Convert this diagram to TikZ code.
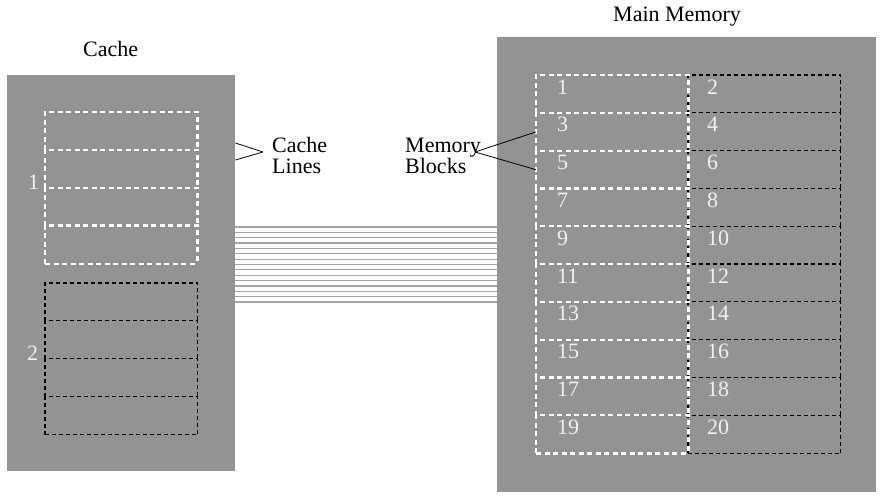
\documentclass[tikz,border=0pt]{standalone}
\usepackage{fontspec}
\setmainfont{Liberation Serif}
\usepackage{tikz}

\definecolor{boxgray}{RGB}{147,147,147}
\definecolor{busgray}{RGB}{165,165,165}
\definecolor{numwhite}{RGB}{240,240,240}

\tikzset{
  box/.style={fill=boxgray, inner sep=0pt, anchor=north west},
  cell/.style={minimum width=152pt, minimum height=37.8pt, inner sep=0pt, anchor=north west},
  wline/.style={draw=white, line width=2.2pt, dash pattern=on 5pt off 3.5pt},
  kline/.style={draw=black, line width=1.1pt, dash pattern=on 4pt off 3pt},
  num/.style={text=numwhite, font=\fontsize{22}{21}\selectfont, inner sep=0pt, anchor=base west},
  lbl/.style={font=\fontsize{22}{21}\selectfont, inner sep=0pt, anchor=base west, align=left},
  bus/.style={draw=busgray, line width=1.2pt},
  pointer/.style={draw=black, line width=0.8pt}
}

\begin{document}
\begin{tikzpicture}[x=1pt,y=-1pt]
    \useasboundingbox (0,0) rectangle (881,503);

    % Cache
    \node[box, minimum width=228pt, minimum height=396pt] (cache) at (7,75) {};
    \node[lbl] (cachetitle) at (83,57) {Cache};

    % Linhas da cache
    \foreach \i in {0,...,3} {
        \node[cell] (a\i) at (45,{112+\i*37.8}) {};
        \node[cell] (b\i) at (45,{283+\i*37.8}) {};
        \draw[wline] (a\i.south west) |- (a\i.north east) -- (a\i.south east);
        \draw[kline] (b\i.south west) |- (b\i.north east) -- (b\i.south east);
    }
    \draw[wline] (a3.south west) -- (a3.south east);
    \draw[kline] (b3.south west) -- (b3.south east);
    \node[num] (set1) at (28,189) {1};
    \node[num] (set2) at (27,360) {2};

    % Memoria principal
    \node[box, minimum width=379pt, minimum height=455pt] (mem) at (497,37) {};
    \node[lbl] (memtitle) at (613,22) {Main Memory};

    % Blocos
    \foreach \r in {0,...,9} {
        \pgfmathtruncatemacro{\l}{2*\r+1}
        \pgfmathtruncatemacro{\k}{2*\r+2}
        \node[cell] (m\l) at (536,{75+\r*37.8}) {};
        \node[cell] (m\k) at (688,{75+\r*37.8}) {};
        \draw[kline] (m\k.south west) |- (m\k.north east) -- (m\k.south east);
        \draw[wline] (m\l.south west) |- (m\l.north east) -- (m\l.south east);
        \node[num] at ([xshift=21pt,yshift=-19pt]m\l.north west) {\l};
        \node[num] at ([xshift=19pt,yshift=-19pt]m\k.north west) {\k};
    }
    \draw[kline] (m20.south west) -- (m20.south east);
    \draw[wline] (m19.south west) -- (m19.south east);

    % Barramento
    \foreach \y in {0,...,14}
        \draw[bus] (cache.east |- 0,{227+\y*75/14}) -- (mem.west |- 0,{227+\y*75/14});

    % Rotulos
    \node[lbl] (cachelines) at (272,173) {Cache\\Lines};
    \coordinate (cltip) at (263,152);
    \draw[pointer] (cache.east |- 0,143) -- (cltip);
    \draw[pointer] (cache.east |- 0,160) -- (cltip);

    \node[lbl] (memblocks) at (405,173) {Memory\\Blocks};
    \coordinate (mbtip) at (475,152);
    \draw[pointer] (mbtip) -- (m3.west);
    \draw[pointer] (mbtip) -- (m5.west);
\end{tikzpicture}
\end{document}
